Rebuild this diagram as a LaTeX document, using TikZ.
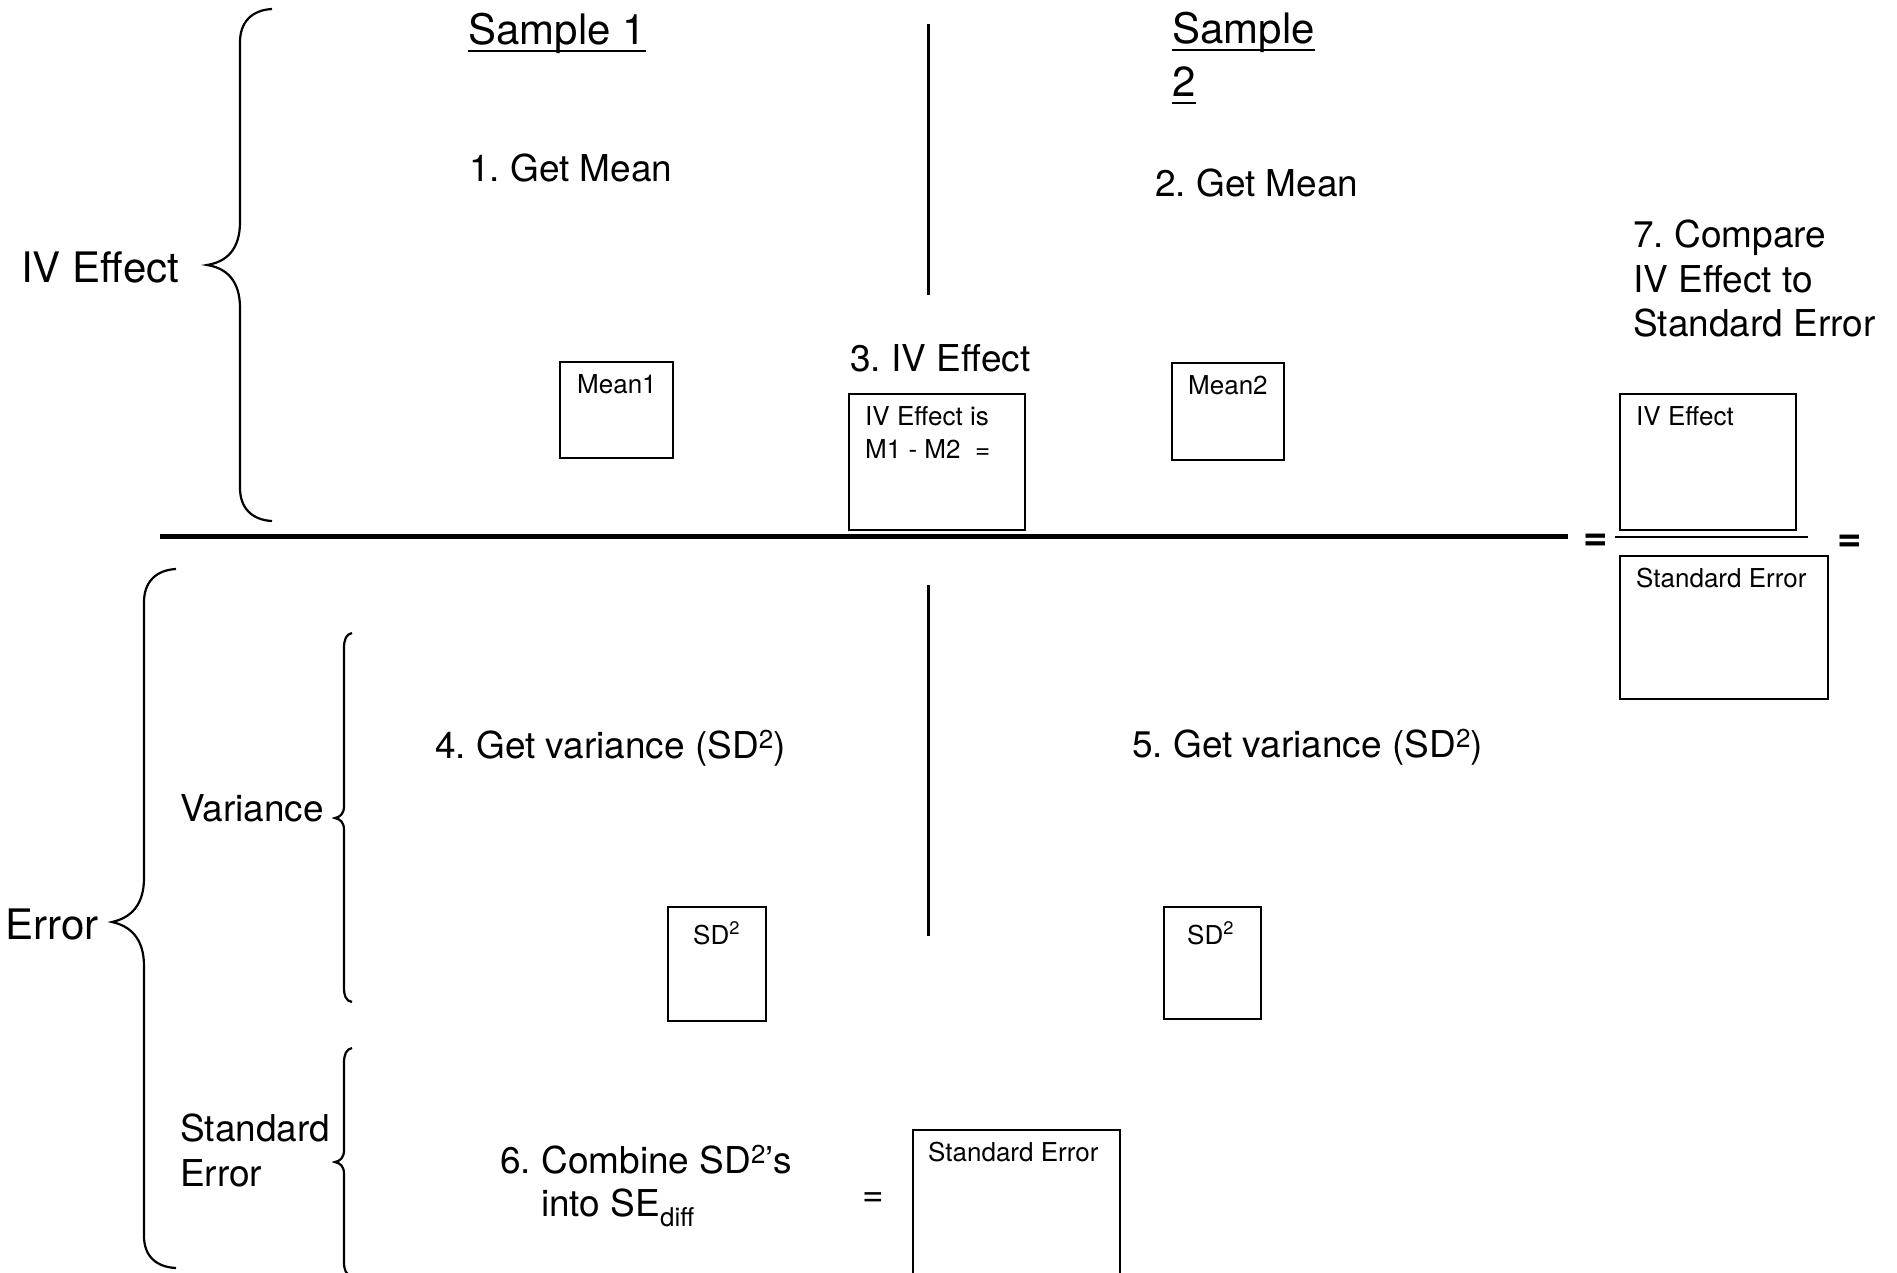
\documentclass[tikz,border=0pt]{standalone}
\usepackage{fontspec}
\setmainfont{TeX Gyre Heros}
\frenchspacing
\tikzset{
  lab/.style={font=\fontsize{42}{50}\selectfont, inner sep=0pt, anchor=base west},
  big/.style={font=\fontsize{37}{44}\selectfont, inner sep=0pt, anchor=base west},
  small/.style={font=\fontsize{26}{31}\selectfont, inner sep=0pt, anchor=base west},
  eqsign/.style={font=\fontsize{42}{50}\selectfont\bfseries, inner sep=0pt, anchor=center},
  box/.style={draw, line width=2pt, inner sep=0pt, anchor=north west},
  brace/.style={line width=2.2pt},
  ul/.style={line width=2pt},
  divider/.style={line width=3pt}
}
\begin{document}
\begin{tikzpicture}[x=1pt,y=-1pt]
\useasboundingbox (0,0) rectangle (1897,1272);
\clip (0,0) rectangle (1897,1272);
\fill[white] (0,0) rectangle (1897,1272);

% headings
\node[lab] (s1) at (468,44) {Sample 1};
\draw[ul] ([yshift=-7pt]s1.base west) -- ([yshift=-7pt]s1.base east);
\node[lab] (s2a) at (1172,43) {Sample};
\draw[ul] ([yshift=-7pt]s2a.base west) -- ([yshift=-7pt]s2a.base east);
\node[lab] (s2b) at (1172,96) {2};
\draw[ul] ([yshift=-7pt]s2b.base west) -- ([yshift=-7pt]s2b.base east);

% dividers
\coordinate (d1a) at (928,24); \coordinate (d1b) at (928,295);
\coordinate (d2a) at (928,585); \coordinate (d2b) at (928,936);
\draw[divider] (d1a) -- (d1b);
\draw[divider] (d2a) -- (d2b);

% upper texts
\node[big] (g1) at (469,181) {1. Get Mean};
\node[big] (g2) at (1155,196) {2. Get Mean};
\node[lab] (ive) at (21,282) {IV Effect};
\node[big] (c1) at (1633,247) {7. Compare};
\node[big] (c2) at (1633,292) {IV Effect to};
\node[big] (c3) at (1633,336) {Standard Error};
\node[big] (s3) at (850,371) {3. IV Effect};

% upper boxes
\node[box, minimum width=113pt, minimum height=96pt] (m1) at (559,361) {};
\node[small] (m1t) at (577,393) {Mean1};
\node[box, minimum width=112pt, minimum height=97pt] (m2) at (1171,362) {};
\node[small] (m2t) at (1188,394) {Mean2};
\node[box, minimum width=176pt, minimum height=136pt] (iv) at (848,393) {};
\node[small] (ivt1) at (865,425) {IV Effect is};
\node[small] (ivt2) at (865,458) {M1 - M2\ \ =};
\node[box, minimum width=176pt, minimum height=136pt] (ivr) at (1619,393) {};
\node[small] (ivrt) at (1636,425) {IV Effect};

% main line and fraction
\coordinate (h1) at (160,536); \coordinate (h2) at (1568,536);
\draw[line width=5pt] (h1) -- (h2);
\node[eqsign] (eq1) at (1596,542) {=};
\coordinate (f1) at (1615,537); \coordinate (f2) at (1808,537);
\draw[line width=2.5pt] (f1) -- (f2);
\node[eqsign] (eq2) at (1850,543) {=};
\node[box, minimum width=208pt, minimum height=143pt] (ser) at (1619,555) {};
\node[small] (sert) at (1636,587) {Standard Error};

% upper brace
\draw[brace] (272,9) .. controls (252,10) and (240,22) .. (240,42) -- (240,222)
  .. controls (240,250) and (226,262) .. (207,265)
  .. controls (226,268) and (240,280) .. (240,308) -- (240,488)
  .. controls (240,508) and (252,520) .. (272,521);

% lower brace (Error)
\draw[brace] (176,569) .. controls (156,570) and (144,582) .. (144,602) -- (144,878)
  .. controls (144,906) and (130,918) .. (112,922)
  .. controls (130,926) and (144,938) .. (144,966) -- (144,1236)
  .. controls (144,1256) and (156,1267) .. (176,1268);

% variance brace
\draw[brace] (352,633) .. controls (346,634) and (344,640) .. (344,648) -- (344,806)
  .. controls (344,814) and (340,817) .. (335,818)
  .. controls (340,819) and (344,822) .. (344,830) -- (344,987)
  .. controls (344,996) and (346,1001) .. (352,1002);

% standard error brace
\draw[brace] (352,1048) .. controls (346,1049) and (344,1055) .. (344,1063) -- (344,1150)
  .. controls (344,1158) and (340,1161) .. (335,1162)
  .. controls (340,1163) and (344,1166) .. (344,1174) -- (344,1262)
  .. controls (344,1270) and (346,1275) .. (352,1276);

% lower texts
\node[lab] (err) at (5,939) {Error};
\node[big] (var) at (180,821) {Variance};
\node[big] (se1) at (180,1141) {Standard};
\node[big] (se2) at (180,1186) {Error};
\node[big] (g4) at (435,758) {4. Get variance (SD\textsuperscript{2})};
\node[big] (g5) at (1132,757) {5. Get variance (SD\textsuperscript{2})};
\node[big] (c6a) at (500,1173) {6. Combine SD\textsuperscript{2}’s};
\node[big] (c6b) at (541,1216) {into SE\textsubscript{diff}};
\node[big, anchor=center] (eq3) at (873,1200) {=};

% lower boxes
\node[box, minimum width=98pt, minimum height=114pt] (sd1) at (667,906) {};
\node[small] (sd1t) at (693,944) {SD\textsuperscript{2}};
\node[box, minimum width=97pt, minimum height=112pt] (sd2) at (1163,906) {};
\node[small] (sd2t) at (1187,944) {SD\textsuperscript{2}};
\node[box, minimum width=207pt, minimum height=170pt] (sel) at (912,1129) {};
\node[small] (selt) at (928,1161) {Standard Error};
\end{tikzpicture}
\end{document}
